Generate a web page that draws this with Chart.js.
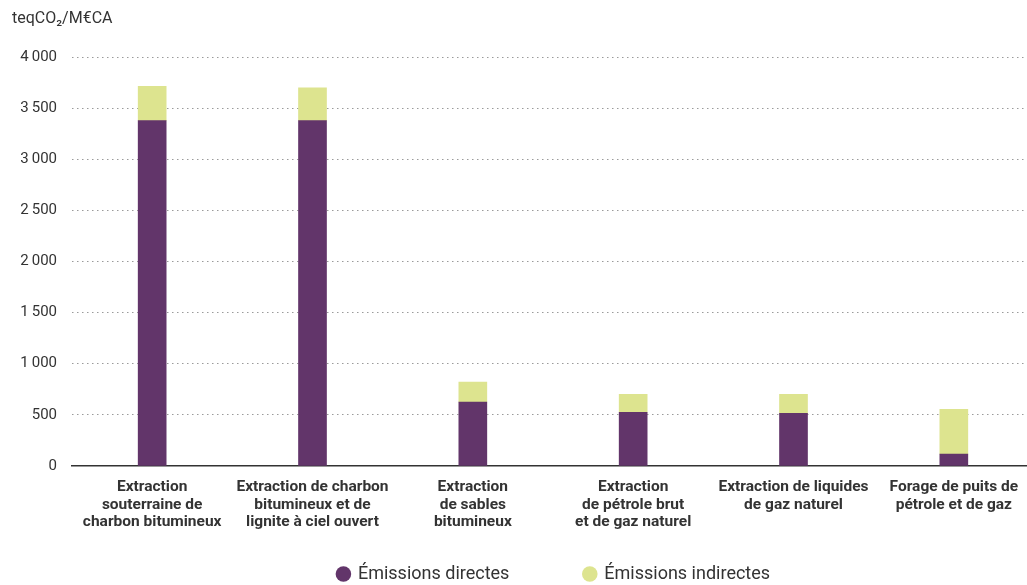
<!DOCTYPE html>
<html lang="fr">
<head>
<meta charset="utf-8">
<script src="https://cdn.jsdelivr.net/npm/chart.js@4/dist/chart.umd.min.js"></script>
<style>
  html, body { margin: 0; padding: 0; background: #fff; overflow: hidden; }
  #wrap { position: relative; width: 1106px; height: 585px; }
</style>
</head>
<body>
<div id="wrap"><canvas id="chart"></canvas></div>
<script>
const categories = [
  ['Extraction', 'souterraine de', 'charbon bitumineux'],
  ['Extraction de charbon', 'bitumineux et de', 'lignite à ciel ouvert'],
  ['Extraction', 'de sables', 'bitumineux'],
  ['Extraction', 'de pétrole brut', 'et de gaz naturel'],
  ['Extraction de liquides', 'de gaz naturel'],
  ['Forage de puits de', 'pétrole et de gaz'],
];
const directes = [3380, 3380, 625, 525, 515, 115];
const indirectes = [335, 320, 195, 175, 185, 440];
const yTicks = [0, 500, 1000, 1500, 2000, 2500, 3000, 3500, 4000];

const FONT = 'Roboto, "DejaVu Sans", sans-serif';
const TEXT = '#333333';

function fmt(v) {
  return v >= 1000 ? String(v).replace(/\B(?=(\d{3})+(?!\d))/g, '\u2009') : String(v);
}

// shift legend box so it is centred under the plot, not the whole canvas
const legendShift = {
  id: 'legendShift',
  afterLayout(chart) {
    if (chart.legend) chart.legend.left += 62;
  },
};

new Chart(document.getElementById('chart'), {
  type: 'bar',
  data: {
    labels: categories,
    datasets: [
      { label: 'Émissions directes', data: directes, backgroundColor: '#62356a', barThickness: 28 },
      { label: 'Émissions indirectes', data: indirectes, backgroundColor: '#dde48f', barThickness: 28 },
    ],
  },
  plugins: [legendShift],
  options: {
    responsive: true,
    maintainAspectRatio: false,
    animation: false,
    layout: { padding: { left: 12, right: 72, top: 0, bottom: -8 } },
    scales: {
      x: {
        stacked: true,
        grid: { display: false },
        border: { display: true, color: '#333', width: 1.5 },
        ticks: {
          color: TEXT,
          font: { family: FONT, size: 15.5, weight: 'bold', lineHeight: 1.12 },
          maxRotation: 0,
          autoSkip: false,
          padding: 5,
        },
      },
      y: {
        stacked: true,
        min: 0,
        max: 4000,
        afterBuildTicks: (scale) => { scale.ticks = yTicks.map((v) => ({ value: v })); },
        afterFit: (scale) => { scale.width = 60; },
        border: { display: false, dash: [1.5, 3.5] },
        grid: {
          drawTicks: false,
          color: (ctx) => (ctx.tick && ctx.tick.value === 0 ? 'rgba(0,0,0,0)' : '#9a9a9a'),
          lineWidth: 1,
        },
        ticks: {
          color: TEXT,
          font: { family: FONT, size: 15 },
          padding: 15,
          callback: (v) => fmt(v),
        },
      },
    },
    plugins: {
      title: {
        display: true,
        text: 'teqCO₂/M€CA',
        align: 'start',
        color: TEXT,
        font: { family: FONT, size: 16, weight: 'normal' },
        padding: { top: 9, bottom: 29 },
      },
      legend: {
        position: 'bottom',
        labels: {
          usePointStyle: true,
          pointStyle: 'circle',
          boxWidth: 11,
          boxHeight: 11,
          padding: 29,
          color: TEXT,
          font: { family: FONT, size: 18 },
          generateLabels: (chart) => {
            const items = Chart.defaults.plugins.legend.labels.generateLabels(chart);
            items[0].text += '\u2003\u2003\u2002';
            return items;
          },
        },
      },
      tooltip: { enabled: false },
    },
  },
});
</script>
</body>
</html>
